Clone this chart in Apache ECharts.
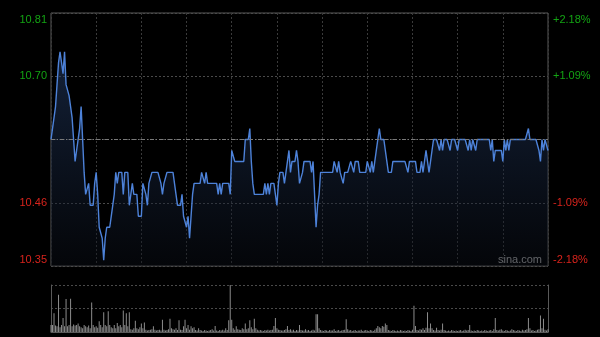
<!DOCTYPE html>
<html>
<head>
<meta charset="utf-8">
<script src="https://cdn.jsdelivr.net/npm/echarts@6/dist/echarts.min.js"></script>
<style>
html,body{margin:0;padding:0;background:#000;}
#c{width:600px;height:337px;}
</style>
</head>
<body>
<div id="c"></div>
<script>
// ---- data ----
var prevClose = 10.58;
var priceTicksLeft = ['10.35', '10.46', '', '10.70', '10.81'];
var priceTicksRight = ['-2.18%', '-1.09%', '', '+1.09%', '+2.18%'];
var price = [
  10.58,10.60,10.60,10.64,10.68,10.72,10.74,10.72,10.70,10.74,
  10.68,10.68,10.66,10.64,10.62,10.58,10.54,10.56,10.56,10.60,
  10.64,10.58,10.52,10.48,10.48,10.50,10.46,10.46,10.46,10.50,
  10.52,10.48,10.42,10.42,10.40,10.36,10.40,10.42,10.42,10.42,
  10.44,10.46,10.48,10.52,10.50,10.52,10.52,10.52,10.48,10.52,
  10.52,10.52,10.46,10.48,10.50,10.48,10.48,10.48,10.44,10.44,
  10.44,10.50,10.50,10.48,10.46,10.50,10.50,10.52,10.52,10.52,
  10.52,10.52,10.52,10.50,10.48,10.50,10.50,10.52,10.52,10.52,
  10.52,10.52,10.52,10.48,10.46,10.46,10.46,10.48,10.44,10.44,
  10.42,10.44,10.40,10.44,10.48,10.50,10.50,10.50,10.50,10.50,
  10.52,10.52,10.50,10.52,10.50,10.50,10.50,10.50,10.50,10.50,
  10.50,10.48,10.50,10.48,10.50,10.50,10.50,10.50,10.50,10.48,
  10.56,10.56,10.54,10.54,10.54,10.54,10.54,10.54,10.54,10.58,
  10.58,10.58,10.60,10.54,10.50,10.48,10.48,10.48,10.48,10.48,
  10.48,10.48,10.50,10.48,10.50,10.48,10.50,10.50,10.50,10.50,
  10.46,10.50,10.52,10.52,10.52,10.50,10.52,10.54,10.56,10.52,
  10.54,10.54,10.54,10.56,10.54,10.50,10.50,10.52,10.54,10.54,
  10.54,10.54,10.54,10.52,10.54,10.54,10.42,10.46,10.48,10.52,
  10.52,10.52,10.52,10.52,10.52,10.52,10.52,10.52,10.54,10.54,
  10.52,10.54,10.52,10.52,10.50,10.52,10.52,10.52,10.52,10.54,
  10.54,10.52,10.54,10.54,10.54,10.52,10.52,10.52,10.52,10.52,
  10.54,10.54,10.52,10.54,10.52,10.54,10.56,10.58,10.60,10.58,
  10.58,10.58,10.58,10.54,10.52,10.52,10.52,10.54,10.54,10.54,
  10.54,10.54,10.54,10.54,10.54,10.54,10.54,10.52,10.54,10.54,
  10.54,10.54,10.54,10.52,10.52,10.52,10.54,10.52,10.54,10.56,
  10.56,10.52,10.52,10.56,10.58,10.58,10.58,10.58,10.56,10.58,
  10.56,10.58,10.58,10.58,10.58,10.56,10.58,10.58,10.58,10.58,
  10.56,10.58,10.58,10.58,10.58,10.58,10.58,10.56,10.58,10.56,
  10.58,10.58,10.56,10.58,10.58,10.58,10.58,10.58,10.58,10.58,
  10.58,10.58,10.56,10.58,10.54,10.56,10.56,10.56,10.56,10.56,
  10.54,10.58,10.56,10.58,10.56,10.58,10.58,10.58,10.58,10.58,
  10.58,10.58,10.58,10.58,10.58,10.58,10.58,10.60,10.58,10.58,
  10.58,10.58,10.58,10.58,10.56,10.54,10.58,10.56,10.58,10.58,
  10.56
];
var volume = [
  15,15,40,14,12,79,10,15,30,12,
  70,12,15,71,12,16,14,15,18,12,
  10,8,15,12,10,14,8,63,15,10,
  12,9,23,15,10,42,15,12,44,15,
  10,8,15,8,19,12,15,10,46,15,
  40,12,42,6,5,8,24,8,6,10,
  18,8,20,5,3,4,5,6,12,5,
  3,4,5,3,26,5,3,4,6,28,
  8,6,5,8,4,25,5,4,12,26,
  8,15,5,12,8,10,4,3,8,4,
  3,2,4,3,2,3,4,6,3,13,
  3,2,4,3,5,3,8,4,25,100,
  26,8,5,12,6,5,4,8,6,18,
  6,8,25,10,6,28,8,5,3,4,
  3,2,4,3,5,3,4,5,13,30,
  8,5,4,3,3,4,6,13,4,6,
  3,5,2,4,3,15,4,3,3,6,
  3,4,2,3,5,3,38,38,8,4,
  3,2,4,3,2,4,3,3,6,2,
  3,4,2,3,4,5,27,6,3,4,
  2,3,4,2,3,3,5,2,3,4,
  3,2,4,3,2,5,8,13,10,8,
  13,11,18,15,4,3,2,4,3,2,
  3,2,4,3,2,3,2,4,3,2,
  5,56,13,4,3,6,5,8,4,9,
  42,8,18,8,4,3,9,4,3,5,
  18,4,3,2,3,2,4,3,2,3,
  2,3,4,2,3,5,3,4,15,3,
  2,3,2,4,3,2,3,2,4,3,
  2,3,4,2,6,30,4,3,5,6,
  3,2,4,3,2,3,6,4,3,2,
  4,3,2,5,3,4,6,30,8,3,
  4,2,3,5,6,35,8,28,5,3,
  6
];
// categories: trading minutes (09:30-12:00, 13:00-16:00 shown continuously)
var times = [];
(function(){
  for (var i = 0; i < price.length; i++) {
    var t = 9*60 + 30 + i + (i > 150 ? 60 : 0);
    var h = Math.floor(t/60), m = t % 60;
    times.push((h<10?'0':'') + h + ':' + (m<10?'0':'') + m);
  }
})();

var span = 0.0218;
var yMin = prevClose * (1 - span);
var yMax = prevClose * (1 + span);
var yInt = (yMax - yMin) / 4;
var GREEN = '#13a313', RED = '#d8231c';

function tickIndex(v){ return Math.round((v - yMin) / yInt); }
function wrap(list){
  return function(v){
    var i = tickIndex(v), s = list[i] || '';
    if (!s) return '';
    if (i === 4) return '{t|' + s + '}';
    if (i === 0) return '{b|' + s + '}';
    return s;
  };
}
var richEdge = {
  t:{padding:[13,0,0,0], fontSize:11, fontFamily:'Liberation Sans, Arial, sans-serif'},
  b:{padding:[0,0,12,0], fontSize:11, fontFamily:'Liberation Sans, Arial, sans-serif'}
};

var chart = echarts.init(document.getElementById('c'), null, {renderer:'canvas'});
chart.setOption({
  backgroundColor: '#000',
  animation: false,
  grid: [
    {left: 51, right: 52, top: 13, height: 253, show: true, borderColor: '#595959', borderWidth: 1},
    {left: 51, right: 52, top: 285, height: 47, show: false}
  ],
  xAxis: [
    {type:'category', gridIndex:0, data: times, boundaryGap:false,
     axisLine:{show:false}, axisTick:{show:false}, axisLabel:{show:false},
     splitLine:{show:true, interval:29, lineStyle:{color:'#3a3a3a', type:[2,2], width:1}}},
    {type:'category', gridIndex:1, data: times, boundaryGap:false,
     axisLine:{show:true, lineStyle:{color:'#595959'}}, axisTick:{show:false}, axisLabel:{show:false},
     splitLine:{show:false}}
  ],
  yAxis: [
    {type:'value', gridIndex:0, min:yMin, max:yMax, interval:yInt, position:'left',
     axisLine:{show:false}, axisTick:{show:false},
     splitLine:{show:true, lineStyle:{color:'#4a4a4a', type:[2,2]}},
     axisLabel:{show:true, margin:4, fontSize:11, fontFamily:'Liberation Sans, Arial, sans-serif',
       formatter: wrap(priceTicksLeft), rich: richEdge,
       color:function(v){ return v > prevClose ? GREEN : RED; }}},
    {type:'value', gridIndex:0, min:yMin, max:yMax, interval:yInt, position:'right',
     axisLine:{show:false}, axisTick:{show:false}, splitLine:{show:false},
     axisLabel:{show:true, margin:5, fontSize:11, fontFamily:'Liberation Sans, Arial, sans-serif',
       formatter: wrap(priceTicksRight), rich: richEdge,
       color:function(v){ return v > prevClose ? GREEN : RED; }}},
    {type:'value', gridIndex:1, min:0, max:100, interval:50, position:'left',
     axisLine:{show:true, lineStyle:{color:'#595959'}}, axisTick:{show:false}, axisLabel:{show:false},
     splitLine:{show:true, lineStyle:{color:'#4a4a4a', type:[2,2]}}},
    {type:'value', gridIndex:1, min:0, max:100, interval:50, position:'right',
     axisLine:{show:true, lineStyle:{color:'#595959'}}, axisTick:{show:false}, axisLabel:{show:false},
     splitLine:{show:false}}
  ],
  series: [
    {type:'line', xAxisIndex:0, yAxisIndex:0, data: price, symbol:'none', smooth:false,
     lineStyle:{color:'#4d82d9', width:1.4},
     areaStyle:{origin:'start', color:new echarts.graphic.LinearGradient(0,0,0,1,[
       {offset:0, color:'rgba(38,64,110,0.75)'},
       {offset:1, color:'rgba(10,14,22,0.6)'}])},
     markLine:{silent:true, symbol:'none', label:{show:false},
       lineStyle:{color:'#7a7a7a', type:[4,2,1,2], width:1},
       data:[{yAxis: prevClose}]},
     z:3},
    {type:'bar', xAxisIndex:1, yAxisIndex:2, data: volume, barWidth:1,
     itemStyle:{color:'#8c8c8c'}}
  ],
  graphic: [
    {type:'text', left:498, top:254, silent:true,
     style:{text:'sina.com', fill:'#a0a0a0', fontSize:11, fontFamily:'Liberation Sans, Arial, sans-serif'}}
  ]
});
</script>
</body>
</html>
